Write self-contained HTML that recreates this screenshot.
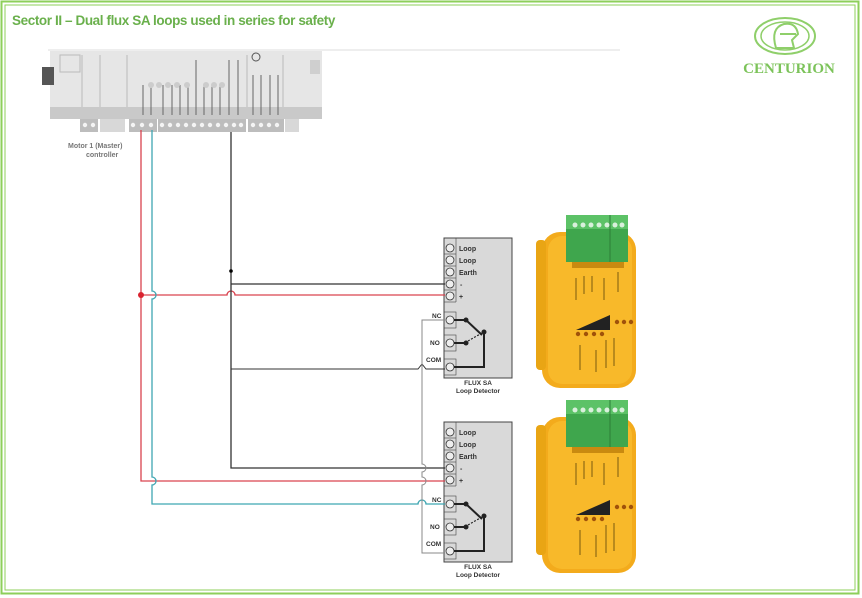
<!DOCTYPE html>
<html><head><meta charset="utf-8"><style>
html,body{margin:0;padding:0;background:#fff;}
svg{display:block;}
text{font-family:"Liberation Sans",sans-serif;}
</style></head><body>
<svg width="862" height="598" viewBox="0 0 862 598" xmlns="http://www.w3.org/2000/svg">
<defs>
<g id="dev">
  <rect x="542" y="232" width="94" height="156" rx="18" fill="#f3ab1c"/>
  <rect x="536" y="240" width="10" height="130" rx="4" fill="#e9a514"/>
  <rect x="548" y="236" width="84" height="148" rx="14" fill="#f8b92a"/>
  <rect x="566" y="215" width="62" height="47" fill="#3fa64d"/>
  <rect x="566" y="215" width="62" height="14" fill="#5cc267"/>
  <line x1="610" y1="215" x2="610" y2="262" stroke="#2c7d38"/>
  <g fill="#d9f0dc"><circle cx="575" cy="225" r="2.5"/><circle cx="583" cy="225" r="2.5"/><circle cx="591" cy="225" r="2.5"/><circle cx="599" cy="225" r="2.5"/><circle cx="607" cy="225" r="2.5"/><circle cx="615" cy="225" r="2.5"/><circle cx="622" cy="225" r="2.5"/></g>
  <rect x="572" y="262" width="52" height="6" fill="#c98a10"/>
  <polygon points="576,330 610,315 610,330" fill="#222"/>
  <g fill="#a0520a"><circle cx="578" cy="334" r="2.2"/><circle cx="586" cy="334" r="2.2"/><circle cx="594" cy="334" r="2.2"/><circle cx="602" cy="334" r="2.2"/><circle cx="617" cy="322" r="2.2"/><circle cx="624" cy="322" r="2.2"/><circle cx="631" cy="322" r="2.2"/></g>
  <g stroke="#7a5a10" stroke-width="1"><line x1="576" y1="278" x2="576" y2="300"/><line x1="584" y1="276" x2="584" y2="294"/><line x1="592" y1="276" x2="592" y2="292"/><line x1="604" y1="278" x2="604" y2="300"/><line x1="618" y1="272" x2="618" y2="292"/><line x1="580" y1="345" x2="580" y2="370"/><line x1="596" y1="350" x2="596" y2="372"/><line x1="606" y1="340" x2="606" y2="368"/><line x1="614" y1="338" x2="614" y2="366"/></g>
</g>
<g id="box">
  <rect x="444" y="0" width="68" height="140" fill="#d9d9d9" stroke="#444" stroke-width="1"/>
  <g fill="#eee" stroke="#333" stroke-width="0.8">
    <circle cx="450" cy="10" r="4"/><circle cx="450" cy="22" r="4"/><circle cx="450" cy="34" r="4"/><circle cx="450" cy="46" r="4"/><circle cx="450" cy="58" r="4"/><circle cx="450" cy="82" r="4"/><circle cx="450" cy="105" r="4"/><circle cx="450" cy="129" r="4"/>
  </g>
  <g stroke="#444" stroke-width="0.6"><line x1="444" y1="16" x2="456" y2="16"/><line x1="444" y1="28" x2="456" y2="28"/><line x1="444" y1="40" x2="456" y2="40"/><line x1="444" y1="52" x2="456" y2="52"/><line x1="444" y1="64" x2="456" y2="64"/><line x1="456" y1="0" x2="456" y2="64"/><rect x="444" y="74" width="12" height="16" fill="none"/><rect x="444" y="97" width="12" height="16" fill="none"/><rect x="444" y="121" width="12" height="16" fill="none"/></g>
  <g font-size="7" font-weight="bold" fill="#333"><text x="459" y="13">Loop</text><text x="459" y="25">Loop</text><text x="459" y="37">Earth</text><text x="460" y="49">-</text><text x="459" y="61">+</text></g>
  <g stroke="#222" stroke-width="2" fill="none"><polyline points="454,82 466,82 482,97"/><polyline points="454,105 466,105"/><polyline points="454,129 484,129 484,93"/></g>
  <line x1="468" y1="103" x2="482" y2="95" stroke="#222" stroke-width="1.2" stroke-dasharray="2,1.5"/>
  <g fill="#222"><circle cx="466" cy="82" r="2.5"/><circle cx="466" cy="105" r="2.5"/><circle cx="484" cy="94" r="2.5"/></g>
  <g font-size="6.5" font-weight="bold" fill="#333"><text x="432" y="80">NC</text><text x="430" y="107">NO</text><text x="426" y="124">COM</text></g>
  <g font-size="6.5" font-weight="bold" fill="#333" text-anchor="middle"><text x="478" y="147">FLUX SA</text><text x="478" y="155">Loop Detector</text></g>
</g>
</defs>

<!-- border -->
<rect x="1.5" y="1.5" width="857" height="592" fill="none" stroke="#8dcf5a" stroke-width="2"/>
<rect x="5" y="5" width="850" height="585" fill="none" stroke="#8dcf5a" stroke-width="1"/>
<text x="12" y="25" font-size="13.5" fill="#6ab04c" font-weight="bold" style="letter-spacing:-0.4px">Sector II – Dual flux SA loops used in series for safety</text>

<!-- logo -->
<ellipse cx="785" cy="36" rx="30" ry="18" fill="none" stroke="#8fcf6a" stroke-width="2"/>
<ellipse cx="785" cy="36" rx="24" ry="14" fill="none" stroke="#8fcf6a" stroke-width="1.5"/>
<path d="M776 48 Q770 28 784 24 Q796 22 798 34 L792 40 L794 48 Z M780 34 H796" fill="none" stroke="#8fcf6a" stroke-width="2"/>
<text x="789" y="73" font-size="15" font-weight="bold" fill="#7cc35a" text-anchor="middle" style="font-family:'Liberation Serif',serif">CENTURION</text>

<!-- controller -->
<line x1="48" y1="50" x2="620" y2="50" stroke="#ddd"/>
<rect x="50" y="51" width="272" height="57" fill="#e6e6e6"/>
<rect x="50" y="107" width="272" height="12" fill="#c9c9c9"/>
<rect x="42" y="67" width="12" height="18" fill="#555"/>
<rect x="310" y="60" width="10" height="14" fill="#cfcfcf"/>
<g fill="#bdbdbd">
<rect x="80" y="119" width="18" height="13"/><rect x="100" y="119" width="25" height="13" fill="#d8d8d8"/>
<rect x="129" y="119" width="28" height="13"/><rect x="158" y="119" width="88" height="13"/><rect x="248" y="119" width="36" height="13"/><rect x="285" y="119" width="14" height="13" fill="#d8d8d8"/>
</g>
<g fill="#f4f4f4">
<circle cx="85" cy="125" r="2.2"/><circle cx="93" cy="125" r="2.2"/>
<circle cx="133" cy="125" r="2.2"/><circle cx="142" cy="125" r="2.2"/><circle cx="151" cy="125" r="2.2"/>
<circle cx="162" cy="125" r="2.2"/><circle cx="170" cy="125" r="2.2"/><circle cx="178" cy="125" r="2.2"/><circle cx="186" cy="125" r="2.2"/><circle cx="194" cy="125" r="2.2"/><circle cx="202" cy="125" r="2.2"/><circle cx="210" cy="125" r="2.2"/><circle cx="218" cy="125" r="2.2"/><circle cx="226" cy="125" r="2.2"/><circle cx="234" cy="125" r="2.2"/><circle cx="241" cy="125" r="2.2"/>
<circle cx="253" cy="125" r="2.2"/><circle cx="261" cy="125" r="2.2"/><circle cx="269" cy="125" r="2.2"/><circle cx="277" cy="125" r="2.2"/>
</g>
<g stroke="#bbb" fill="none"><rect x="60" y="55" width="20" height="17"/><line x1="82" y1="55" x2="82" y2="107"/><line x1="100" y1="55" x2="100" y2="107"/><line x1="127" y1="55" x2="127" y2="107"/><line x1="247" y1="55" x2="247" y2="107"/><line x1="283" y1="55" x2="283" y2="107"/></g>
<g stroke="#666" stroke-width="1"><line x1="143" y1="85" x2="143" y2="115"/><line x1="151" y1="85" x2="151" y2="115"/><line x1="163" y1="85" x2="163" y2="115"/><line x1="172" y1="85" x2="172" y2="115"/><line x1="180" y1="85" x2="180" y2="115"/><line x1="188" y1="85" x2="188" y2="115"/><line x1="196" y1="60" x2="196" y2="115"/><line x1="204" y1="85" x2="204" y2="115"/><line x1="212" y1="85" x2="212" y2="115"/><line x1="220" y1="85" x2="220" y2="115"/><line x1="229" y1="60" x2="229" y2="115"/><line x1="238" y1="60" x2="238" y2="115"/><line x1="253" y1="75" x2="253" y2="115"/><line x1="261" y1="75" x2="261" y2="115"/><line x1="270" y1="75" x2="270" y2="115"/><line x1="278" y1="75" x2="278" y2="115"/></g>
<g fill="#ccc"><circle cx="151" cy="85" r="3"/><circle cx="159" cy="85" r="3"/><circle cx="168" cy="85" r="3"/><circle cx="177" cy="85" r="3"/><circle cx="187" cy="85" r="3"/><circle cx="206" cy="85" r="3"/><circle cx="214" cy="85" r="3"/><circle cx="222" cy="85" r="3"/></g>
<circle cx="256" cy="57" r="4" fill="none" stroke="#555"/>
<text x="68" y="148" font-size="7" font-weight="bold" fill="#777">Motor 1 (Master)</text>
<text x="86" y="157" font-size="7" font-weight="bold" fill="#777">controller</text>

<!-- boxes -->
<use href="#box" transform="translate(0,238)"/>
<use href="#box" transform="translate(0,422)"/>
<use href="#dev"/>
<use href="#dev" transform="translate(0,185)"/>

<!-- wires -->
<g fill="none" stroke-width="1.3">
  <path d="M141 130 V481 H445" stroke="#d9434f"/>
  <path d="M141 295 H227 a4 4 0 0 1 8 0 H445" stroke="#d9434f"/>
  <path d="M152 130 V291 a4 4 0 0 1 0 8 V477 a4 4 0 0 1 0 8 V504 H418 a4 4 0 0 1 8 0 H445" stroke="#3fa6b2"/>
  <path d="M231 132 V468 H445" stroke="#333"/>
  <path d="M231 284 H445" stroke="#333"/>
  <path d="M231 369 H418 L422 364 L426 369 H445" stroke="#333" stroke-width="1"/>
  <path d="M445 320 H422 V464 a4 4 0 0 1 0 8 V477 a4 4 0 0 1 0 8 V553 H445" stroke="#888" stroke-width="1"/>
</g>
<circle cx="141" cy="295" r="3" fill="#d9232f"/>
<circle cx="231" cy="271" r="1.8" fill="#000"/>
</svg>
</body></html>
